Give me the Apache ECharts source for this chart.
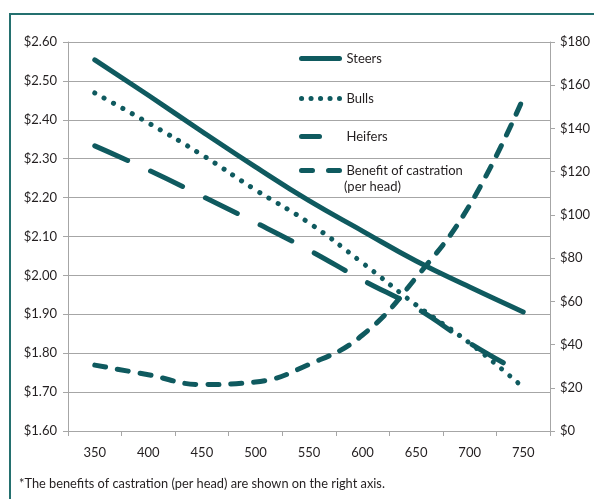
<!DOCTYPE html>
<html>
<head>
<meta charset="utf-8">
<script src="https://cdn.jsdelivr.net/npm/echarts@6/dist/echarts.min.js"></script>
<style>
  html, body { margin: 0; padding: 0; background: #fff; }
  #chart { width: 594px; height: 499px; }
</style>
</head>
<body>
<div id="chart"></div>
<script>
// weights (lb) on the x axis
const weights = ['350', '400', '450', '500', '550', '600', '650', '700', '750'];

// price per lb, left axis
const steers = [2.554, 2.463, 2.370, 2.279, 2.192, 2.114, 2.037, 1.970, 1.906];
const bulls = [2.469, 2.392, 2.310, 2.220, 2.135, 2.032, 1.924, 1.826, 1.712];
const heifers = [2.333, 2.271, 2.204, 2.136, 2.065, 1.988, 1.916, 1.826, 1.747];

// benefit of castration per head, right axis
const benefit = [30.5, 26, 21.5, 22.7, 30.8, 44.4, 71, 104.5, 154];

const legendNames = ['Steers', 'Bulls', 'Heifers', 'Benefit of castration'];

const teal = '#0f5a5f';
const gridGray = '#a6a6a6';
const textColor = '#231f20';
const font = 'Lato';

// dash patterns: series line, then legend icon
const dashes = {
  'Steers': ['solid', 'solid'],
  'Bulls': [[0.1, 10.6], [0.1, 9.4]],
  'Heifers': [[36, 25], [18, 40]],
  'Benefit of castration': [[11, 12], [11, 16]]
};

const chart = echarts.init(document.getElementById('chart'));

const lineSeries = (name, data, yAxisIndex) => ({
  name: name,
  type: 'line',
  yAxisIndex: yAxisIndex,
  data: data,
  smooth: 0.45,
  symbol: 'circle',
  showSymbol: false,
  lineStyle: { color: teal, width: 5, type: dashes[name][0], cap: 'round', join: 'round' },
  itemStyle: { color: teal }
});

const legendTops = [52, 92, 130, 164];

const option = {
  animation: false,
  textStyle: { fontFamily: font },
  title: {
    text: '*The benefits of castration (per head) are shown on the right axis.',
    left: 19,
    top: 477,
    padding: 0,
    textStyle: { fontSize: 12.8, fontWeight: 'normal', color: textColor, fontFamily: font, lineHeight: 14 }
  },
  graphic: [
    { type: 'rect', shape: { x: 9, y: 13, width: 2, height: 486 }, style: { fill: '#24706f' } },
    { type: 'rect', shape: { x: 9, y: 13, width: 585, height: 2 }, style: { fill: '#24706f' } },
    {
      type: 'text', left: 344, top: 180,
      style: { text: '(per head)', fill: textColor, font: '13px Lato' }
    }
  ],
  legend: legendNames.map((name, i) => ({
    data: [{
      name: name,
      itemStyle: { opacity: 0 },
      lineStyle: { color: teal, width: 5, type: dashes[name][1], cap: 'round' }
    }],
    left: 299,
    top: legendTops[i],
    padding: 0,
    itemWidth: 38,
    itemHeight: 12,
    selectedMode: false,
    textStyle: { fontSize: 13, color: textColor, fontFamily: font, padding: [0, 0, 0, 2] }
  })),
  grid: { left: 68, right: 44, top: 42, bottom: 68 },
  xAxis: {
    type: 'category',
    data: weights,
    boundaryGap: true,
    axisLine: { lineStyle: { color: gridGray, width: 1 } },
    axisTick: { show: true, length: 5, lineStyle: { color: gridGray } },
    axisLabel: { color: textColor, fontSize: 13, margin: 15, fontFamily: font },
    splitLine: { show: false }
  },
  yAxis: [
    {
      type: 'value',
      min: 1.6,
      max: 2.6,
      interval: 0.1,
      axisLine: { show: true, lineStyle: { color: gridGray } },
      axisTick: { show: true, length: 5, lineStyle: { color: gridGray } },
      axisLabel: {
        color: textColor, fontSize: 13, margin: 11, fontFamily: font,
        formatter: v => '$' + v.toFixed(2)
      },
      splitLine: { show: true, lineStyle: { color: gridGray, width: 1 } }
    },
    {
      type: 'value',
      min: 0,
      max: 180,
      interval: 20,
      position: 'right',
      axisLine: { show: true, lineStyle: { color: gridGray } },
      axisTick: { show: true, length: 5, lineStyle: { color: gridGray } },
      axisLabel: {
        color: textColor, fontSize: 13, margin: 10, fontFamily: font,
        formatter: v => '$' + v
      },
      splitLine: { show: false }
    }
  ],
  series: [
    lineSeries('Steers', steers, 0),
    lineSeries('Bulls', bulls, 0),
    lineSeries('Heifers', heifers, 0),
    lineSeries('Benefit of castration', benefit, 1)
  ]
};

chart.setOption(option);
</script>
</body>
</html>
